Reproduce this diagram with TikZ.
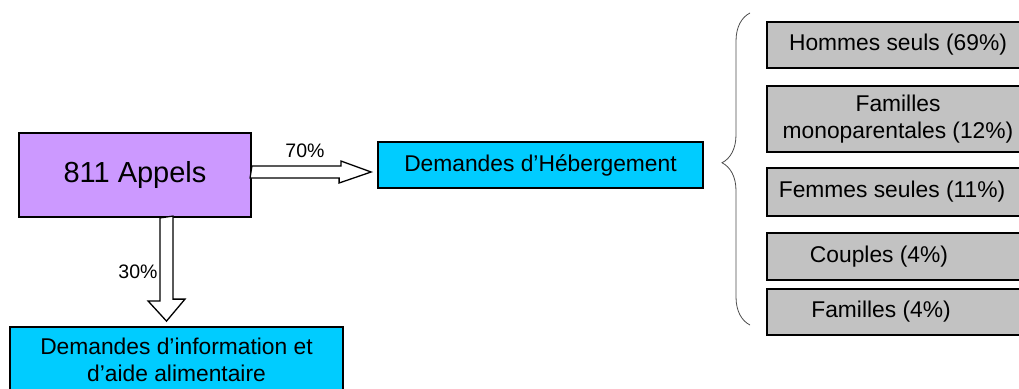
\documentclass[tikz,border=0pt]{standalone}
\usepackage{fontspec}
\setmainfont{Liberation Sans}
\usetikzlibrary{calc,decorations.pathreplacing}
\definecolor{appelfill}{RGB}{204,153,255}
\definecolor{demfill}{RGB}{0,204,255}
\definecolor{catfill}{RGB}{194,194,194}
\tikzset{
    every node/.style={inner sep=0pt, font=\fontsize{22.8}{27}\selectfont}
}
\tikzset{
    box/.style={draw, line width=1.8pt, rectangle, align=center},
    catbox/.style={box, fill=catfill, minimum width=262},
    hollow/.style={draw, fill=white, line width=1.3pt, line join=miter},
    pct/.style={font=\fontsize{19.5}{22}\selectfont}
}
\begin{document}
\begin{tikzpicture}[x=1pt,y=-1pt]
	\useasboundingbox (0,0) rectangle (1019,388);
	\node (appels) [box, fill=appelfill, minimum width=232, minimum height=84,
		font=\fontsize{29}{32}\selectfont] at (135,175) {811 Appels};
	\node (heberg) [box, fill=demfill, minimum width=325, minimum height=46] at (540.5,165) {Demandes d'Hébergement};
	\node (info) [box, fill=demfill, minimum width=333, minimum height=66] at (176.5,360)
		{Demandes d'information et\\d'aide alimentaire};

	\node (hommes) [catbox, minimum height=46] at (898,45) {Hommes seuls (69\%)};
	\node (mono) [catbox, minimum height=66] at (898,119) {Familles\\monoparentales (12\%)};
	\node (femmes) [catbox, minimum height=48] at (898,192) {Femmes seules (11\%)\hspace*{12pt}};
	\node (couples) [catbox, minimum height=47] at (898,256.5) {Couples (4\%)\hspace*{38pt}};
	\node (familles) [catbox, minimum height=46] at (898,312) {Familles (4\%)\hspace*{34pt}};

	% hollow arrows
	\coordinate (t70) at ($(heberg.west)+(-6,7)$);
	\draw[hollow] (appels.east |- t70) ++(0,-6) -- ++(89,0) -- ++(0,-5) -- (t70)
		-- ++(-32,11) -- ++(0,-5) -- ++(-89,0) -- cycle;
	\coordinate (t30) at ($(info.north)+(-10,-5)$);
	\draw[hollow] (t30 |- appels.south) ++(-6.5,0) -- ++(0,83) -- ++(-12,0) -- (t30)
		-- ++(18.5,-22) -- ++(-12,0) -- ++(0,-83) -- cycle;
	\node (p70) [pct] at (305,151) {70\%};
	\node (p30) [pct] at (138,272) {30\%};

	% brace
	\coordinate (brtop) at (750,13);
	\coordinate (brbot) at (750,325);
	\draw[line width=0.8pt, black!70, decorate,
		decoration={brace, amplitude=28pt, aspect=0.52}] (brbot) -- (brtop);
\end{tikzpicture}
\end{document}
